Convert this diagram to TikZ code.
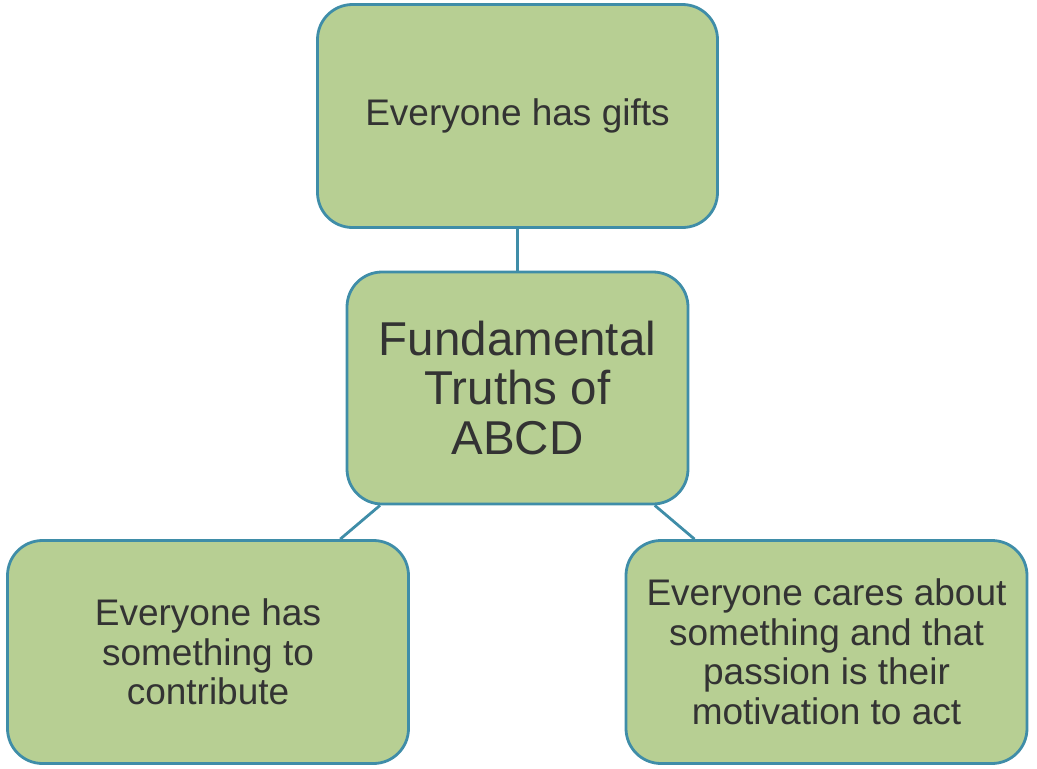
\documentclass[tikz,border=0pt]{standalone}
\usepackage{fontspec}
\setmainfont{Liberation Sans}
\definecolor{boxfill}{HTML}{B7CF93}
\definecolor{boxline}{HTML}{3F8DA8}
\definecolor{txt}{HTML}{333333}
\begin{document}
\begin{tikzpicture}[x=1pt,y=-1pt,
  truthbox/.style={draw=boxline, line width=2.8pt, fill=boxfill, rounded corners=35pt,
    align=center, inner sep=0pt, text=txt, font=\fontsize{37}{39.5}\selectfont},
  link/.style={draw=boxline, line width=2.8pt}]
\useasboundingbox (0,0) rectangle (1037,769);
\node[truthbox, minimum width=400pt, minimum height=223pt] (top) at (517.5,116) {Everyone has gifts};
\node[truthbox, minimum width=341pt, minimum height=232pt, font=\fontsize{47.5}{49.5}\selectfont] (c) at (517.5,388) {Fundamental\\Truths of\\ABCD};
\node[truthbox, minimum width=401pt, minimum height=223pt] (l) at (208,652) {Everyone has\\something to\\contribute};
\node[truthbox, minimum width=401pt, minimum height=223pt] (r) at (826.5,652) {Everyone cares about\\something and that\\passion is their\\motivation to act};
\draw[link] (top) -- (c);
\draw[link] (c) -- (l);
\draw[link] (c) -- (r);
\end{tikzpicture}
\end{document}
